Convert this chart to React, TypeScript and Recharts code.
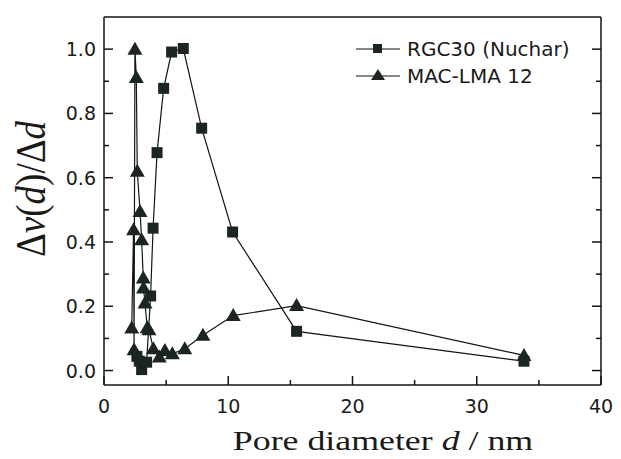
import { LineChart, Line, XAxis, YAxis, Label } from 'recharts'

// RGC30 (Nuchar), pore diameter d (nm) and Δv(d)/Δd
const rgcD = [2.65, 2.84, 3.03, 3.43, 3.75, 3.95, 4.27, 4.8, 5.44, 6.38, 7.86, 10.35, 15.5, 33.8]
const rgcV = [0.044, 0.029, 0.003, 0.026, 0.232, 0.443, 0.678, 0.878, 0.991, 1.002, 0.754, 0.431, 0.122, 0.029]

// MAC-LMA 12
const macD = [2.23, 2.38, 2.42, 2.49, 2.6, 2.68, 2.9, 3.03, 3.16, 3.18, 3.3, 3.48, 3.62, 3.97, 4.45, 4.9, 5.5, 6.5, 7.96, 10.4, 15.5, 33.8]
const macV = [0.132, 0.438, 0.065, 1.0, 0.912, 0.62, 0.495, 0.407, 0.288, 0.257, 0.21, 0.133, 0.127, 0.068, 0.042, 0.062, 0.052, 0.068, 0.11, 0.171, 0.202, 0.047]

const xTicks = [0, 5, 10, 15, 20, 25, 30, 35, 40]
const yTicks = [0, 0.1, 0.2, 0.3, 0.4, 0.5, 0.6, 0.7, 0.8, 0.9, 1.0]

const rgc = rgcD.map((d, i) => ({ d, v: rgcV[i] }))
const mac = macD.map((d, i) => ({ d, v: macV[i] }))

const INK = '#141414'
const MARK = '#1b2621'
const tickFont = { fontFamily: 'DejaVu Sans', fontSize: 19, fill: '#1a1a1a' }

const isMajorX = (v: number) => v % 10 === 0
const isMajorY = (v: number) => Math.round(v * 10) % 2 === 0

function BottomTick({ x, y, payload }: any) {
  const major = isMajorX(payload.value)
  return (
    <g>
      <line x1={x} x2={x} y1={y} y2={y - (major ? 9 : 5)} stroke={INK} strokeWidth={1.5} />
      {major && (
        <text x={x} y={y + 21} textAnchor="middle" dominantBaseline="central" {...tickFont}>
          {payload.value}
        </text>
      )}
    </g>
  )
}

function TopTick({ x, y, payload }: any) {
  const major = isMajorX(payload.value)
  return <line x1={x} x2={x} y1={y} y2={y + (major ? 9 : 5)} stroke={INK} strokeWidth={1.5} />
}

function LeftTick({ x, y, payload }: any) {
  const major = isMajorY(payload.value)
  return (
    <g>
      <line x1={x} x2={x + (major ? 9 : 5)} y1={y} y2={y} stroke={INK} strokeWidth={1.5} />
      {major && (
        <text x={x - 8} y={y} textAnchor="end" dominantBaseline="central" {...tickFont}>
          {payload.value.toFixed(1)}
        </text>
      )}
    </g>
  )
}

function RightTick({ x, y, payload }: any) {
  const major = isMajorY(payload.value)
  return <line x1={x} x2={x - (major ? 9 : 5)} y1={y} y2={y} stroke={INK} strokeWidth={1.5} />
}

function Square({ cx, cy, index }: any) {
  if (cx == null || cy == null) return <g key={index} />
  return <rect key={index} x={cx - 5.5} y={cy - 5.5} width={11} height={11} fill={MARK} />
}

function Triangle({ cx, cy, index }: any) {
  if (cx == null || cy == null) return <g key={index} />
  return <path key={index} d={`M${cx},${cy - 7.5} L${cx + 7.5},${cy + 5.5} L${cx - 7.5},${cy + 5.5} Z`} fill={MARK} />
}

function LegendBox() {
  const rows = [
    { name: 'RGC30 (Nuchar)', shape: 'square' },
    { name: 'MAC-LMA 12', shape: 'triangle' },
  ]
  return (
    <div style={{ position: 'absolute', left: 354, top: 35, width: 250 }}>
      {rows.map(r => (
        <div key={r.name} style={{ display: 'flex', alignItems: 'center', height: 27 }}>
          <svg width={50} height={20}>
            <line x1={2} x2={46} y1={10} y2={10} stroke={INK} strokeWidth={1.2} />
            {r.shape === 'square'
              ? <rect x={19} y={5} width={9} height={9} fill={MARK} />
              : <path d="M24,3 L31,14 L17,14 Z" fill={MARK} />}
          </svg>
          <span style={{ fontFamily: 'DejaVu Sans', fontSize: 20, color: '#1a1a1a', marginLeft: 3 }}>{r.name}</span>
        </div>
      ))}
    </div>
  )
}

const XTitle = () => (
  <text
    transform="translate(383,450) scale(1.28,1)"
    textAnchor="middle"
    fontFamily="Liberation Serif"
    fontSize={28}
    fill="#1a1a1a"
  >
    Pore diameter <tspan fontStyle="italic">d</tspan> / nm
  </text>
)

const YTitle = () => (
  <text
    transform="translate(45,189) scale(1.15,1) rotate(-90)"
    textAnchor="middle"
    fontFamily="Liberation Serif"
    fontSize={37}
    fill="#1a1a1a"
  >
    Δ<tspan fontStyle="italic">v</tspan>(<tspan fontStyle="italic">d</tspan>)/Δ<tspan fontStyle="italic">d</tspan>
  </text>
)

export default function App() {
  return (
    <div style={{ position: 'absolute', left: 0, top: 0, width: 621, height: 459, background: '#fff' }}>
      <LineChart width={621} height={459} margin={{ top: 16, right: 19, bottom: 34, left: 44 }}>
        <XAxis
          type="number"
          dataKey="d"
          domain={[0, 40]}
          ticks={xTicks}
          interval={0}
          allowDataOverflow
          tickSize={0}
          tickMargin={0}
          tickLine={false}
          axisLine={{ stroke: INK, strokeWidth: 1.5 }}
          tick={<BottomTick />}
          height={40}
        >
          <Label content={<XTitle />} />
        </XAxis>
        <XAxis
          xAxisId="top"
          orientation="top"
          type="number"
          domain={[0, 40]}
          ticks={xTicks}
          interval={0}
          allowDataOverflow
          tickSize={0}
          tickMargin={0}
          tickLine={false}
          axisLine={{ stroke: INK, strokeWidth: 1.5 }}
          tick={<TopTick />}
          height={1}
        />
        <YAxis
          type="number"
          domain={[-0.045, 1.1]}
          ticks={yTicks}
          interval={0}
          allowDataOverflow
          tickSize={0}
          tickMargin={0}
          tickLine={false}
          axisLine={{ stroke: INK, strokeWidth: 1.5 }}
          tick={<LeftTick />}
          width={60}
        >
          <Label content={<YTitle />} />
        </YAxis>
        <YAxis
          yAxisId="right"
          orientation="right"
          type="number"
          domain={[-0.045, 1.1]}
          ticks={yTicks}
          interval={0}
          allowDataOverflow
          tickSize={0}
          tickMargin={0}
          tickLine={false}
          axisLine={{ stroke: INK, strokeWidth: 1.5 }}
          tick={<RightTick />}
          width={1}
        />
        <Line
          name="RGC30 (Nuchar)"
          data={rgc}
          dataKey="v"
          stroke={INK}
          strokeWidth={1.2}
          dot={Square}
          activeDot={false}
          isAnimationActive={false}
        />
        <Line
          name="MAC-LMA 12"
          data={mac}
          dataKey="v"
          stroke={INK}
          strokeWidth={1.2}
          dot={Triangle}
          activeDot={false}
          isAnimationActive={false}
        />
      </LineChart>
      <LegendBox />
    </div>
  )
}
